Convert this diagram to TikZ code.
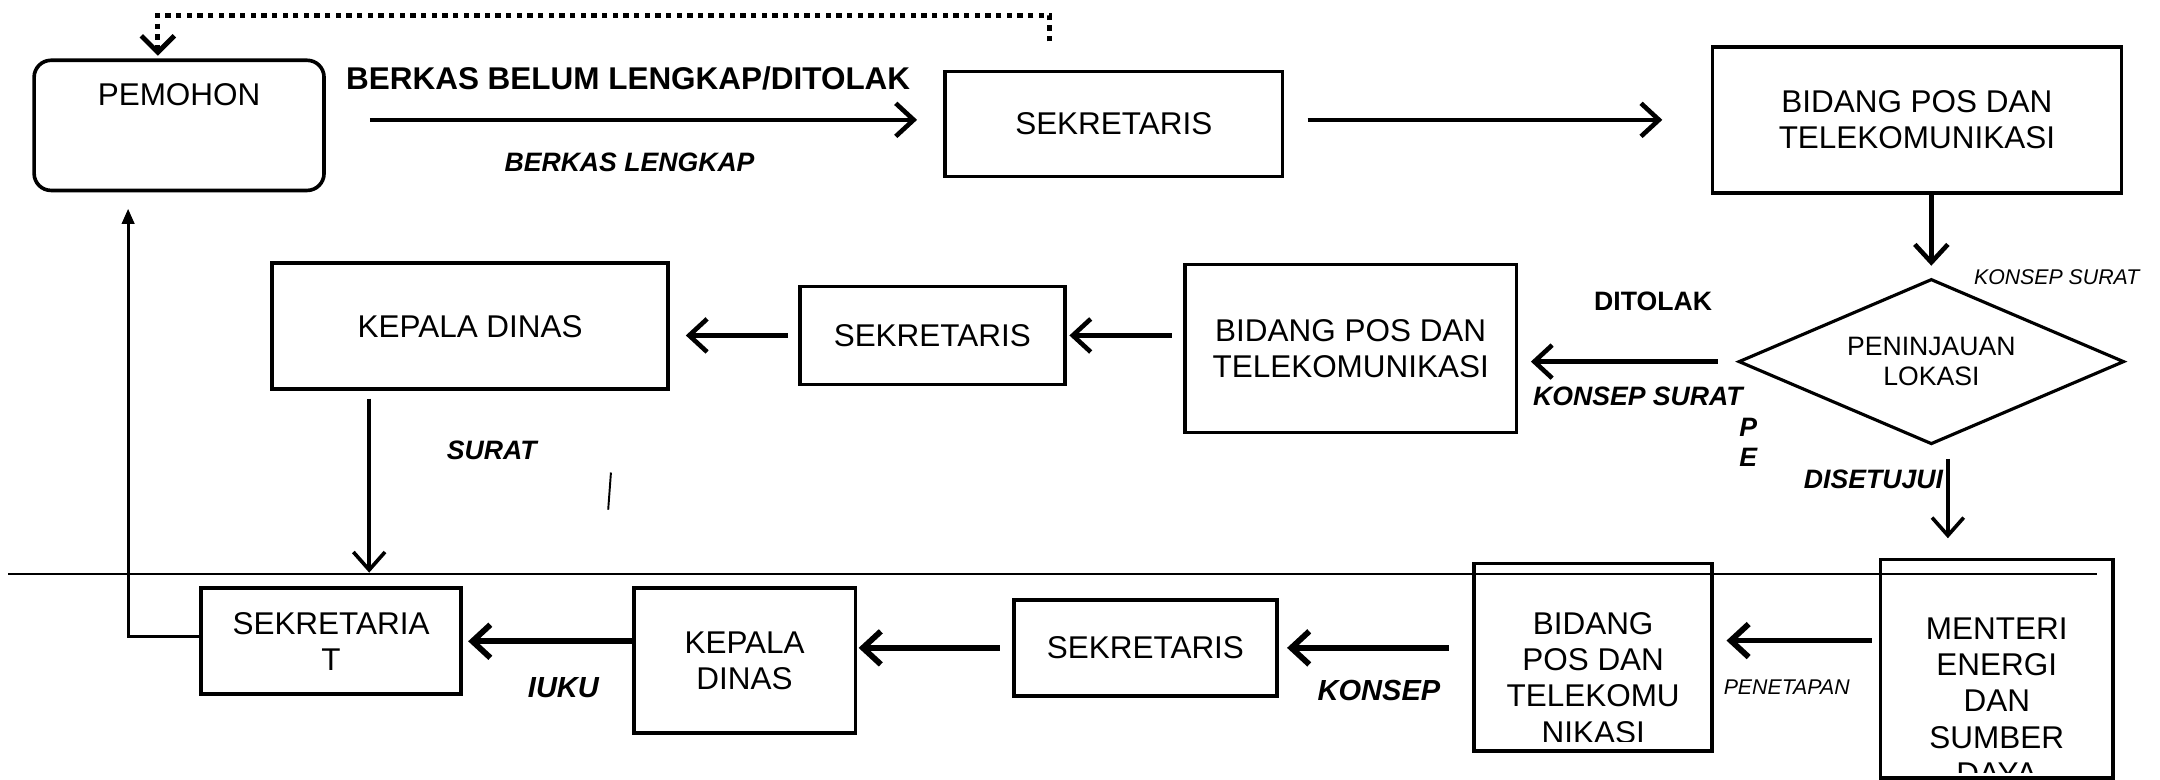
\documentclass[tikz,border=0pt]{standalone}
\usepackage{fontspec}
\setmainfont{Liberation Sans}
\usetikzlibrary{arrows.meta, positioning, shapes.geometric, calc}
\tikzset{
    box/.style={draw, line width=1.5pt, align=center, inner sep=2pt, font=\fontsize{13}{15}\selectfont}, % every unit box
    boxtxt/.style={align=center, inner sep=0pt, font=\fontsize{13}{15}\selectfont}, % text placed by hand
    decision/.style={draw, diamond, aspect=2.33, line width=1.3pt, inner sep=0pt, align=center, font=\fontsize{11}{12.6}\selectfont, minimum width=5.6cm, minimum height=2.4cm},
    flow/.style={line width=1.9pt, -{Straight Barb[length=2.6mm, width=4.8mm]}}, % thick arrows
    flowb/.style={line width=2.4pt, -{Straight Barb[length=2.6mm, width=4.8mm]}}, % bottom row arrows
    flowthin/.style={line width=1.5pt, -{Straight Barb[length=2.6mm, width=4.6mm]}},
    back/.style={line width=1.2pt, -{Triangle[length=2.2mm, width=1.8mm]}}, % return to pemohon
    dotline/.style={line width=2pt, dash pattern=on 2.2pt off 2.2pt, -{Straight Barb[length=2.4mm, width=4.8mm]}},
    sepline/.style={line width=0.8pt},
    lbl/.style={inner sep=0pt, font=\bfseries\itshape\fontsize{11}{13}\selectfont}, % labels on arrows
    lblb/.style={inner sep=0pt, font=\bfseries\itshape\fontsize{12}{14}\selectfont},
    lblsmall/.style={inner sep=0pt, font=\itshape\fontsize{8.8}{10}\selectfont},
}

\begin{document}
\begin{tikzpicture}[x=0.02cm, y=-0.02cm]
    \useasboundingbox (0,0) rectangle (1568,566);

    % top row
    \node[box, rounded corners=7pt, minimum width=4.21cm, minimum height=1.89cm] (pemohon) at (130,91) {};
    \node[boxtxt] (pemohontxt) at (130,69) {PEMOHON};
    \node[box, minimum width=4.9cm, minimum height=1.52cm] (sek1) at (808.5,90) {SEKRETARIS};
    \node[box, minimum width=5.94cm, minimum height=2.12cm] (bidang1) at (1391.5,87) {BIDANG POS DAN\\TELEKOMUNIKASI};

    % middle row
    \node[decision] (tinjau) at (1402,262.5) {PENINJAUAN\\LOKASI};
    \node[box, minimum width=4.82cm, minimum height=2.44cm] (bidang2) at (980.5,253) {BIDANG POS DAN\\TELEKOMUNIKASI};
    \node[box, minimum width=3.85cm, minimum height=1.42cm] (sek2) at (676.75,243.5) {SEKRETARIS};
    \node[box, minimum width=5.75cm, minimum height=1.83cm] (kadis1) at (341.3,236.8) {KEPALA DINAS};

    % bottom row
    \node[box, minimum width=3.77cm, minimum height=1.54cm] (sekretariat) at (240.3,465.5) {SEKRETARIA\\T};
    \node[box, minimum width=3.22cm, minimum height=2.1cm] (kadis2) at (540.5,479.5) {KEPALA\\DINAS};
    \node[box, minimum width=3.82cm, minimum height=1.39cm] (sek3) at (831.5,470.3) {SEKRETARIS};
    \node[box, minimum width=3.46cm, minimum height=2.72cm] (bidang3) at (1156.5,477) {};
    \node[box, minimum width=3.38cm, minimum height=3.18cm] (menteri) at (1449.5,485.5) {};

    % texts cut off by their boxes
    \begin{scope}
        \clip (bidang3.north west) rectangle ($(bidang3.south east)+(0,-8)$);
        \node[boxtxt, anchor=north] (bidang3txt) at (1156.5,444) {BIDANG\\POS DAN\\TELEKOMU\\NIKASI};
    \end{scope}
    \begin{scope}
        \clip (menteri.north west) rectangle ($(menteri.south east)+(0,-5.5)$);
        \node[boxtxt, anchor=north] (menteritxt) at (1449.5,448) {MENTERI\\ENERGI\\DAN\\SUMBER\\DAYA};
    \end{scope}

    % separator
    \coordinate (sepL) at (6,417);
    \coordinate (sepR) at (1522,417);
    \draw[sepline] (sepL) -- (sepR);

    % dotted return
    \coordinate (dotstart) at (762,30);
    \draw[dotline, shorten >=0.04cm] (dotstart) -- ++(0,-19) -| ($(pemohon.north)+(-15.4,0)$);

    % arrows
    \draw[flow, shorten <=0.64cm, shorten >=0.38cm] ($(pemohon.east)+(0,-4)$) -- ($(pemohon.east -| sek1.west)+(0,-4)$);
    \draw[flow, shorten <=0.34cm, shorten >=0.7cm] ($(sek1.east)+(0,-3)$) -- ($(sek1.east -| bidang1.west)+(0,-3)$);
    \draw[flow, shorten >=0.17cm] (bidang1.south -| tinjau.north) -- (tinjau.north);
    \draw[flow, shorten <=0.28cm, shorten >=0.18cm] (tinjau.west) -- (tinjau.west -| bidang2.east);
    \draw[flow, shorten <=0.16cm, shorten >=0.04cm] (bidang2.west |- sek2.east) -- (sek2.east);
    \draw[flow, shorten <=0.15cm, shorten >=0.23cm] (sek2.west) -- (sek2.west -| kadis1.east);
    \draw[flowthin, shorten <=0.11cm, shorten >=0.2cm] ($(kadis1.south)+(-73.3,0)$) -- ($(kadis1.south |- sekretariat.north)+(-73.3,0)$);
    \draw[back, shorten >=0.24cm] ($(sekretariat.west)+(0,-3.5)$) -| ($(pemohon.south)+(-37,0)$);
    \draw[flowthin, shorten <=0.19cm, shorten >=0.28cm] ($(tinjau.south)+(12,0)$) -- ($(tinjau.south |- menteri.north)+(12,0)$);
    \draw[flowb, shorten <=0.1cm, shorten >=0.18cm] ($(menteri.west)+(0,-20.5)$) -- ($(menteri.west -| bidang3.east)+(0,-20.5)$);
    \draw[flowb, shorten <=0.34cm, shorten >=0.12cm] (bidang3.west |- sek3.east) -- (sek3.east);
    \draw[flowb, shorten <=0.18cm, shorten >=0.02cm] (sek3.west) -- (sek3.west -| kadis2.east);
    \draw[flowb, shorten >=0.08cm] (kadis2.west |- sekretariat.east) -- (sekretariat.east);

    % labels
    \node[inner sep=0pt, font=\bfseries\fontsize{13}{15}\selectfont] (lblbelum) at (456,57) {BERKAS BELUM LENGKAP/DITOLAK};
    \node[lbl] (lbllengkap) at (457,118) {BERKAS LENGKAP};
    \node[lblsmall] (lblkonsepa) at (1493,201) {KONSEP SURAT};
    \node[lbl, font=\bfseries\fontsize{11}{13}\selectfont] (lblditolak) at (1200,219) {DITOLAK};
    \node[lbl] (lblkonsepb) at (1189,288) {KONSEP SURAT};
    \node[lbl] (lblp) at (1269,310) {P};
    \node[lbl] (lble) at (1269,332) {E};
    \node[lbl] (lblsurat) at (357,327) {SURAT};
    \node[lbl] (lbldisetujui) at (1360,348) {DISETUJUI};
    \node[lblb] (lbliuku) at (409,499) {IUKU};
    \node[lblb] (lblkonsepc) at (1001,501) {KONSEP};
    \node[lblsmall] (lblpenetapan) at (1297,499) {PENETAPAN};
    \draw[line width=0.8pt] (443.5,343) -- (441.5,370);
\end{tikzpicture}
\end{document}
